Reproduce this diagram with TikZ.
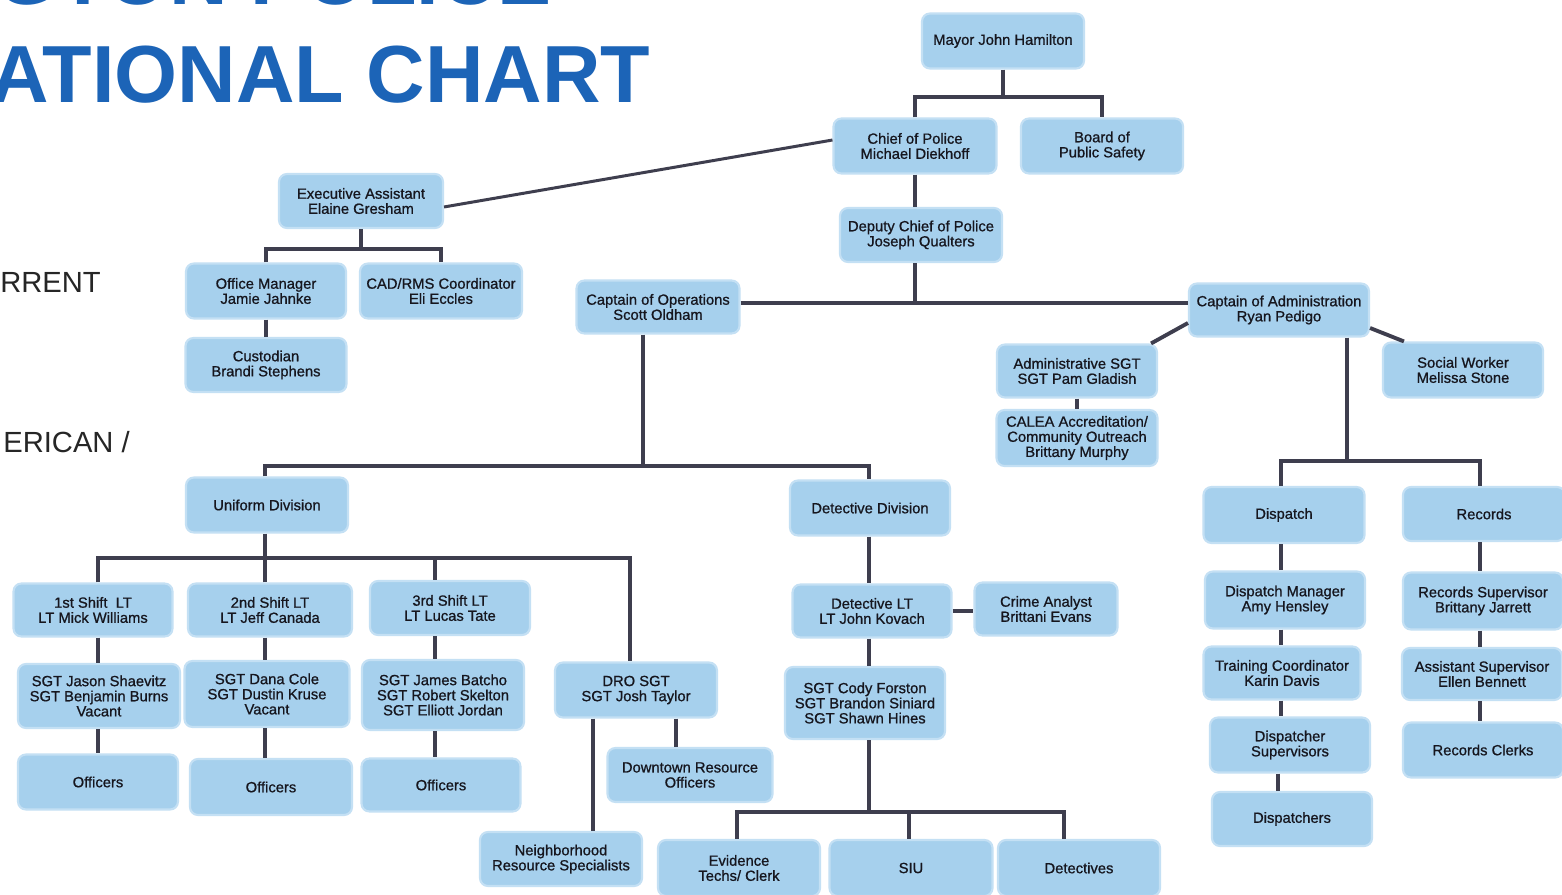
\documentclass[tikz,border=0pt]{standalone}
\usepackage{fontspec}
\setmainfont{Liberation Sans}
\newfontfamily\boxfont[FakeBold=0.9]{Liberation Sans}
\usetikzlibrary{calc}
\definecolor{boxblue}{RGB}{166,208,237}
\definecolor{boxedge}{RGB}{196,224,244}
\definecolor{linecol}{RGB}{62,62,78}
\definecolor{titleblue}{RGB}{28,100,183}
\definecolor{txt}{RGB}{22,22,30}
\begin{document}
\begin{tikzpicture}[x=0.02cm,y=-0.02cm,
  box/.style={fill=boxblue, draw=boxedge, line width=1.2pt, rounded corners=4.5pt,
    align=center, inner sep=0pt, text=txt, font=\boxfont\fontsize{8.4}{8.6}\selectfont},
  bx/.style 2 args={box, minimum width=#1*0.02cm, minimum height=#2*0.02cm},
  con/.style={draw=linecol, line width=2.2pt},
  thincon/.style={draw=linecol, line width=1.7pt},
  titletxt/.style={inner sep=0pt, text=titleblue, font=\fontsize{46.1}{50}\selectfont\bfseries},
  sidetxt/.style={inner sep=0pt, text=black!85, font=\fontsize{16.6}{18}\selectfont}]
\useasboundingbox (0,0) rectangle (1562,895);
\clip (0,0) rectangle (1562,895);
\fill[white] (0,0) rectangle (1562,895);

% titles and side texts
\node[titletxt, anchor=base east] (t1) at (552,5) {GTON POLICE};
\node[titletxt, anchor=base west] (t2) at (-10,103) {ATIONAL CHART};
\node[sidetxt, anchor=base west] (l1) at (0,293) {RRENT};
\node[sidetxt, anchor=base west] (l2) at (3,452) {ERICAN /};

% column coordinates
\coordinate (b1) at (1003,97);
\coordinate (dbus) at (915,303);
\coordinate (ebus) at (361,249);
\coordinate (abus) at (1347,461);
\coordinate (obus) at (643,466);
\coordinate (ubus) at (265,558);
\coordinate (drox) at (630,558);
\coordinate (x98) at (98,0);
\coordinate (x265) at (265,0);
\coordinate (x435) at (435,0);
\coordinate (x593) at (593,0);
\coordinate (x676) at (676,0);
\coordinate (x869) at (869,0);
\coordinate (cbus) at (869,812);
\coordinate (x737) at (737,0);
\coordinate (x909) at (909,0);
\coordinate (x1064) at (1064,0);
\coordinate (x1281) at (1281,0);
\coordinate (x1278) at (1278,0);
\coordinate (x1480) at (1480,0);

% nodes
\node[bx={162}{55}] (mayor) at (1003,41) {Mayor John Hamilton};
\node[bx={163}{55}] (chief) at (915,146) {Chief of Police\\Michael Diekhoff};
\node[bx={162}{55}] (board) at (1102,146) {Board of\\Public Safety};
\node[bx={162}{54}] (deputy) at (921,235) {Deputy Chief of Police\\Joseph Qualters};
\node[bx={164}{54}] (exec) at (361,201) {Executive Assistant\\Elaine Gresham};
\node[bx={160}{55}] (office) at (266,291) {Office Manager\\Jamie Jahnke};
\node[bx={162}{55}] (cad) at (441,291) {CAD/RMS Coordinator\\Eli Eccles};
\node[bx={161}{54}] (cust) at (266,365) {Custodian\\Brandi Stephens};
\node[bx={163}{53}] (cops) at (658,307) {Captain of Operations\\Scott Oldham};
\node[bx={180}{53}] (cadm) at (1279,310) {Captain of Administration\\Ryan Pedigo};
\node[bx={160}{53}] (asgt) at (1077,371) {Administrative SGT\\SGT Pam Gladish};
\node[bx={161}{56}] (calea) at (1077,438) {CALEA Accreditation/\\Community Outreach\\Brittany Murphy};
\node[bx={160}{55}] (social) at (1463,370) {Social Worker\\Melissa Stone};
\node[bx={162}{55}] (unif) at (267,505) {Uniform Division};
\node[bx={160}{55}] (ddiv) at (870,508) {Detective Division};
\node[bx={161}{56}] (disp) at (1284,515) {Dispatch};
\node[bx={162}{54}] (rec) at (1484,514) {Records};
\node[bx={159}{53}] (s1) at (93,610) {1st Shift\ \ LT\\LT Mick Williams};
\node[bx={164}{53}] (s2) at (270,610) {2nd Shift LT\\LT Jeff Canada};
\node[bx={160}{54}] (s3) at (450,608) {3rd Shift LT\\LT Lucas Tate};
\node[bx={162}{64}] (g1) at (99,696) {SGT Jason Shaevitz\\SGT Benjamin Burns\\Vacant};
\node[bx={165}{66}] (g2) at (267,694) {SGT Dana Cole\\SGT Dustin Kruse\\Vacant};
\node[bx={162}{70}] (g3) at (443,695) {SGT James Batcho\\SGT Robert Skelton\\SGT Elliott Jordan};
\node[bx={160}{55}] (o1) at (98,782) {Officers};
\node[bx={162}{56}] (o2) at (271,787) {Officers};
\node[bx={159}{53}] (o3) at (441,785) {Officers};
\node[bx={162}{55}] (dro) at (636,690) {DRO SGT\\SGT Josh Taylor};
\node[bx={165}{54}] (dtown) at (690,775) {Downtown Resource\\Officers};
\node[bx={162}{54}] (nbr) at (561,859) {Neighborhood\\Resource Specialists};
\node[bx={159}{53}] (dlt) at (872,611) {Detective LT\\LT John Kovach};
\node[bx={143}{53}] (crime) at (1046,609) {Crime Analyst\\Brittani Evans};
\node[bx={160}{72}] (cody) at (865,703) {SGT Cody Forston\\SGT Brandon Siniard\\SGT Shawn Hines};
\node[bx={162}{56}] (evid) at (739,868) {Evidence\\Techs/ Clerk};
\node[bx={163}{56}] (siu) at (911,868) {SIU};
\node[bx={162}{56}] (dets) at (1079,868) {Detectives};
\node[bx={160}{57}] (dman) at (1285,600) {Dispatch Manager\\Amy Hensley};
\node[bx={157}{53}] (train) at (1282,673) {Training Coordinator\\Karin Davis};
\node[bx={160}{55}] (dsup) at (1290,745) {Dispatcher\\Supervisors};
\node[bx={160}{54}] (dispr) at (1292,819) {Dispatchers};
\node[bx={160}{57}] (rsup) at (1483,601) {Records Supervisor\\Brittany Jarrett};
\node[bx={160}{52}] (asup) at (1482,674) {Assistant Supervisor\\Ellen Bennett};
\node[bx={160}{55}] (rclk) at (1483,750) {Records Clerks};

% connectors
\draw[con] (mayor.south) -- (b1);
\draw[con] (chief.north) |- (b1) -| (board.north);
\draw[thincon] ([yshift=3.4pt]chief.west) -- ([yshift=-3.4pt]exec.east);
\draw[con] (chief.south) -- (chief.south |- deputy.north);
\draw[con] (deputy.south -| dbus) -- (dbus);
\draw[con] (cops.east |- dbus) -- (cadm.west |- dbus);
\draw[con] (exec.south) -- (ebus);
\draw[con] (office.north) |- (ebus) -| (cad.north);
\draw[con] (office.south) -- (cust.north);
\draw[con] ($(cadm.west)+(0,13)$) -- ($(asgt.north east)+(-7,0)$);
\draw[con] ($(cadm.east)+(0,18)$) -- ($(social.north west)+(22,0)$);
\draw[con] (cadm.south -| abus) -- (abus);
\draw[con] (disp.north -| x1281) |- (abus) -| (rec.north -| x1480);
\draw[con] (asgt.south) -- (calea.north);
\draw[con] (cops.south -| obus) -- (obus);
\draw[con] (unif.north -| x265) |- (obus) -| (ddiv.north -| x869);
% uniform division
\draw[con] (unif.south -| ubus) -- (ubus);
\draw[con] (s1.north -| x98) |- (drox) -- (drox |- dro.north);
\draw[con] (s2.north -| x265) -- (ubus);
\draw[con] (s3.north -| x435) -- (x435 |- ubus);
\draw[con] (s1.south -| x98) -- (g1.north -| x98);
\draw[con] (g1.south -| x98) -- (o1.north -| x98);
\draw[con] (s2.south -| x265) -- (g2.north -| x265);
\draw[con] (g2.south -| x265) -- (o2.north -| x265);
\draw[con] (s3.south -| x435) -- (g3.north -| x435);
\draw[con] (g3.south -| x435) -- (o3.north -| x435);
\draw[con] (dro.south -| x593) -- (nbr.north -| x593);
\draw[con] (dro.south -| x676) -- (dtown.north -| x676);
% detective division
\draw[con] (ddiv.south -| x869) -- (dlt.north -| x869);
\draw[con] (dlt.east) -- (dlt.east -| crime.west);
\draw[con] (dlt.south -| x869) -- (cody.north -| x869);
\draw[con] (cody.south -| x869) -- (cbus);
\draw[con] (evid.north -| x737) |- (cbus) -| (dets.north -| x1064);
\draw[con] (siu.north -| x909) -- (x909 |- cbus);
% dispatch and records
\draw[con] (disp.south -| x1281) -- (dman.north -| x1281);
\draw[con] (dman.south -| x1281) -- (train.north -| x1281);
\draw[con] (train.south -| x1281) -- (dsup.north -| x1281);
\draw[con] (dsup.south -| x1278) -- (dispr.north -| x1278);
\draw[con] (rec.south -| x1480) -- (rsup.north -| x1480);
\draw[con] (rsup.south -| x1480) -- (asup.north -| x1480);
\draw[con] (asup.south -| x1480) -- (rclk.north -| x1480);
\end{tikzpicture}
\end{document}
